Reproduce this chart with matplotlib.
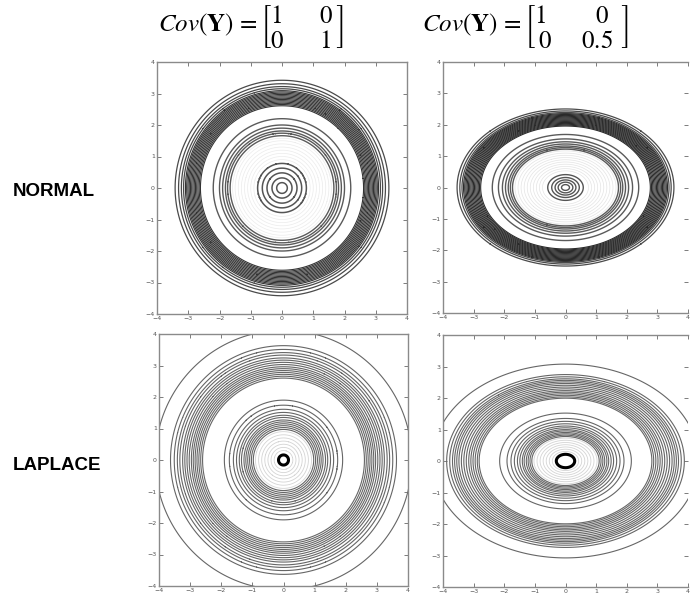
import numpy as np
import matplotlib
matplotlib.use("Agg")
import matplotlib.pyplot as plt

plt.rcParams["mathtext.fontset"] = "stix"

# ring radii (Mahalanobis units)
# top-left: normal, cov = [[1,0],[0,1]]
n1_outer = [3.42, 3.31, 3.22, 3.15]
n1_band = [3.09, 3.05, 3.01, 2.97, 2.93, 2.89, 2.85, 2.81, 2.77, 2.73, 2.69, 2.65, 2.61]
n1_inner = [2.20, 2.00, 1.90, 1.81, 1.74, 1.66]
n1_faint = [1.58, 1.50, 1.40, 1.30, 1.20, 1.10, 1.00, 0.90]
n1_center = [0.78, 0.63, 0.48, 0.32, 0.17]

# top-right: normal, cov = [[1,0],[0,0.5]]
n2_outer = [3.54, 3.45, 3.38]
n2_band = [3.33, 3.29, 3.25, 3.21, 3.17, 3.13, 3.09, 3.05, 3.01, 2.97,
           2.93, 2.89, 2.85, 2.81, 2.77]
n2_inner = [2.39, 2.19, 2.06, 1.96, 1.87, 1.80, 1.73]
n2_faint = [1.65, 1.55, 1.45, 1.35, 1.25, 1.15, 1.05, 0.95, 0.85, 0.75]
n2_center = [0.58, 0.45, 0.34, 0.24, 0.13]

# bottom-left: laplace, cov = [[1,0],[0,1]]
l1_outer = [4.12, 3.63, 3.51, 3.41, 3.33, 3.24, 3.17, 3.10, 3.03, 2.96,
            2.90, 2.84, 2.78, 2.72, 2.66, 2.60]
l1_inner = [1.90, 1.74, 1.61, 1.51, 1.42, 1.35, 1.27, 1.21, 1.15, 1.09, 1.03, 0.97]
l1_faint = [0.90, 0.80, 0.70, 0.60, 0.50, 0.40, 0.30]
l1_center = [0.16]

# bottom-right: laplace, cov = [[1,0],[0,0.5]]
l2_outer = [4.35, 3.88, 3.78, 3.69, 3.62, 3.55, 3.48, 3.40, 3.32, 3.24,
            3.16, 3.09, 3.02, 2.95, 2.88, 2.82]
l2_inner = [2.15, 1.91, 1.78, 1.67, 1.57, 1.49, 1.41, 1.35, 1.28, 1.22, 1.16, 1.10]
l2_faint = [1.03, 0.93, 0.83, 0.73, 0.63, 0.53, 0.43]
l2_center = [0.30]

var_y = [1.0, 0.5]
ticks = [-4, -3, -2, -1, 0, 1, 2, 3, 4]
row_labels = ["NORMAL", "LAPLACE"]
titles = [r"$Cov(\mathbf{Y})\,=\left[\genfrac{}{}{0}{0}{1\qquad 0}{0\qquad 1}\right]$",
          r"$Cov(\mathbf{Y})\,=\left[\genfrac{}{}{0}{0}{1\qquad\ \ 0\ \,}{0\quad\ \ 0.5}\right]$"]

fig = plt.figure(figsize=(6.91, 6.00), dpi=100)

# axes boxes in pixels: left, top, right, bottom
boxes = [(157, 62, 407, 314), (443, 62, 688, 313),
         (159, 334, 408, 586), (443, 335, 688, 587)]
W, H = 691.0, 600.0

panels = [
    [(n1_outer, "#4a4a4a", 0.9), (n1_band, "#333333", 0.8), (n1_inner, "#5a5a5a", 1.0),
     (n1_faint, "#ebebeb", 0.5), (n1_center, "#555555", 1.1)],
    [(n2_outer, "#4a4a4a", 0.9), (n2_band, "#2a2a2a", 0.8), (n2_inner, "#5a5a5a", 1.0),
     (n2_faint, "#e4e4e4", 0.5), (n2_center, "#555555", 1.0)],
    [(l1_outer, "#666666", 0.8), (l1_inner, "#666666", 0.8),
     (l1_faint, "#d4d4d4", 0.6), (l1_center, "#000000", 2.2)],
    [(l2_outer, "#666666", 0.8), (l2_inner, "#666666", 0.8),
     (l2_faint, "#d4d4d4", 0.6), (l2_center, "#000000", 2.2)],
]

g = np.linspace(-4.5, 4.5, 1501)
X, Y = np.meshgrid(g, g)

for i, (box, groups) in enumerate(zip(boxes, panels)):
    l, t, r, b = box
    ax = fig.add_axes([l / W, 1 - b / H, (r - l) / W, (b - t) / H])
    M = np.sqrt(X ** 2 + Y ** 2 / var_y[i % 2])
    for levels, col, lw in groups:
        ax.contour(X, Y, M, levels=sorted(levels), colors=col, linewidths=lw)
    ax.set_xlim(-4, 4)
    ax.set_ylim(-4, 4)
    ax.set_xticks(ticks)
    ax.set_yticks(ticks)
    ax.tick_params(direction="in", top=True, right=True, length=3, width=0.6,
                   labelsize=4.5, pad=1.5, colors="#666666", labelcolor="#555555")
    for s in ax.spines.values():
        s.set_color("#8a8a8a")
        s.set_linewidth(1.0)
    if i % 2 == 1:
        # right column is cut at the image edge in the reference
        ax.spines["right"].set_visible(False)

fig.text(251 / W, 1 - 27 / H, titles[0], ha="center", va="center", fontsize=18)
fig.text(525 / W, 1 - 27 / H, titles[1], ha="center", va="center", fontsize=18)

fig.text(13 / W, 1 - 191 / H, row_labels[0], ha="left", va="center",
         fontsize=13.5, fontweight="bold", family="Liberation Sans")
fig.text(13 / W, 1 - 465 / H, row_labels[1], ha="left", va="center",
         fontsize=13.5, fontweight="bold", family="Liberation Sans")

fig.savefig("out.png", dpi=100, facecolor="white")
